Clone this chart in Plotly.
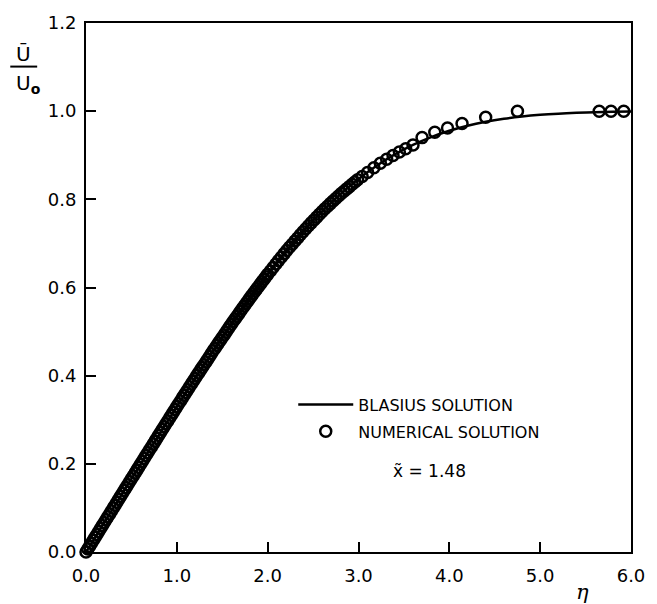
import plotly.graph_objects as go

# Blasius solution (tabulated f'(eta))
blasius_eta = [0.0, 0.2, 0.4, 0.6, 0.8, 1.0, 1.2, 1.4, 1.6, 1.8, 2.0, 2.2, 2.4, 2.6, 2.8,
               3.0, 3.2, 3.4, 3.6, 3.8, 4.0, 4.2, 4.4, 4.6, 4.8, 5.0, 5.2, 5.4, 5.6, 5.8, 6.0]
blasius_u = [0.0, 0.0664, 0.1328, 0.1989, 0.2647, 0.3298, 0.3938, 0.4563, 0.5168, 0.5748,
             0.6298, 0.6813, 0.7290, 0.7725, 0.8115, 0.8461, 0.8761, 0.9018, 0.9233, 0.9411,
             0.9555, 0.9670, 0.9759, 0.9827, 0.9878, 0.9916, 0.9943, 0.9962, 0.9975, 0.9984, 0.9990]

# Numerical solution points
num_eta = [
    0.00, 0.02, 0.04, 0.06, 0.08, 0.10, 0.12, 0.14, 0.16, 0.18,
    0.20, 0.22, 0.24, 0.26, 0.28, 0.30, 0.32, 0.34, 0.36, 0.38,
    0.40, 0.42, 0.44, 0.46, 0.48, 0.50, 0.52, 0.54, 0.56, 0.58,
    0.60, 0.62, 0.64, 0.66, 0.68, 0.70, 0.72, 0.74, 0.76, 0.78,
    0.80, 0.82, 0.84, 0.86, 0.88, 0.90, 0.92, 0.94, 0.96, 0.98,
    1.00, 1.02, 1.04, 1.06, 1.08, 1.10, 1.12, 1.14, 1.16, 1.18,
    1.20, 1.22, 1.24, 1.26, 1.28, 1.30, 1.32, 1.34, 1.36, 1.38,
    1.40, 1.42, 1.44, 1.46, 1.48, 1.50, 1.52, 1.54, 1.56, 1.58,
    1.60, 1.62, 1.64, 1.66, 1.68, 1.70, 1.72, 1.74, 1.76, 1.78,
    1.80, 1.82, 1.84, 1.86, 1.88, 1.90, 1.92, 1.94, 1.96, 1.98,
    2.00, 2.03, 2.06, 2.09, 2.12, 2.15, 2.18, 2.21, 2.24, 2.27,
    2.30, 2.33, 2.36, 2.39, 2.42, 2.45, 2.48, 2.51, 2.54, 2.57,
    2.60, 2.63, 2.66, 2.69, 2.72, 2.75, 2.78, 2.81, 2.84, 2.87,
    2.90, 2.93, 2.96, 2.99, 3.04, 3.10, 3.17, 3.24, 3.31, 3.38,
    3.45, 3.52, 3.60, 3.70, 3.84, 3.98, 4.14, 4.40, 4.75, 5.65,
    5.78, 5.92]
num_u = [
    0.0000, 0.0066, 0.0133, 0.0199, 0.0266, 0.0332, 0.0398, 0.0465, 0.0531, 0.0598,
    0.0664, 0.0731, 0.0797, 0.0863, 0.0930, 0.0996, 0.1062, 0.1129, 0.1195, 0.1262,
    0.1327, 0.1394, 0.1460, 0.1526, 0.1592, 0.1659, 0.1725, 0.1791, 0.1857, 0.1923,
    0.1989, 0.2055, 0.2121, 0.2187, 0.2253, 0.2319, 0.2384, 0.2450, 0.2515, 0.2581,
    0.2647, 0.2713, 0.2778, 0.2843, 0.2908, 0.2973, 0.3038, 0.3103, 0.3167, 0.3233,
    0.3298, 0.3362, 0.3426, 0.3491, 0.3555, 0.3619, 0.3682, 0.3746, 0.3809, 0.3873,
    0.3938, 0.4001, 0.4063, 0.4126, 0.4188, 0.4250, 0.4312, 0.4374, 0.4436, 0.4500,
    0.4563, 0.4624, 0.4684, 0.4744, 0.4804, 0.4864, 0.4924, 0.4985, 0.5046, 0.5107,
    0.5168, 0.5227, 0.5285, 0.5343, 0.5401, 0.5459, 0.5517, 0.5575, 0.5632, 0.5690,
    0.5748, 0.5804, 0.5859, 0.5914, 0.5969, 0.6024, 0.6079, 0.6134, 0.6188, 0.6243,
    0.6298, 0.6376, 0.6455, 0.6533, 0.6610, 0.6687, 0.6763, 0.6837, 0.6911, 0.6982,
    0.7053, 0.7125, 0.7196, 0.7266, 0.7335, 0.7401, 0.7466, 0.7531, 0.7596, 0.7661,
    0.7725, 0.7785, 0.7844, 0.7903, 0.7961, 0.8019, 0.8076, 0.8131, 0.8185, 0.8237,
    0.8288, 0.8340, 0.8392, 0.8442, 0.8520, 0.8611, 0.8717, 0.8818, 0.8910, 0.8995,
    0.9075, 0.9148, 0.9233, 0.9400, 0.9520, 0.9620, 0.9720, 0.9860, 1.0000, 1.0000,
    1.0000, 1.0000]

x_ticks = [0, 1, 2, 3, 4, 5, 6]
x_ticklabels = ["0.0", "1.0", "2.0", "3.0", "4.0", "5.0", "6.0"]
y_ticks = [0, 0.2, 0.4, 0.6, 0.8, 1.0, 1.2]
y_ticklabels = ["0.0", "0.2", "0.4", "0.6", "0.8", "1.0", "1.2"]

FONT = "DejaVu Sans"
L, R, T, B = 86, 24, 18, 52
W, H = 657, 604
PW, PH = W - L - R, H - T - B


def px(xp):
    return (xp - L) / PW


def py(yp):
    return (H - B - yp) / PH


fig = go.Figure()
fig.add_trace(go.Scatter(
    x=blasius_eta, y=blasius_u, mode="lines", name="BLASIUS SOLUTION",
    line=dict(color="black", width=2.5, shape="spline"), legendgroup="a"))
fig.add_trace(go.Scatter(
    x=num_eta, y=num_u, mode="markers", name="NUMERICAL SOLUTION",
    marker=dict(symbol="circle-open", size=11, color="black",
                line=dict(width=2.5, color="black")),
    cliponaxis=False, legendgroup="b"))

fig.update_layout(
    width=W, height=H,
    margin=dict(l=L, r=R, t=T, b=B),
    paper_bgcolor="white", plot_bgcolor="white",
    font=dict(family=FONT, color="black"),
    showlegend=True,
    legend=dict(x=px(294), y=py(386), xanchor="left", yanchor="top",
                font=dict(size=16, family=FONT), tracegroupgap=3,
                bgcolor="rgba(0,0,0,0)", itemwidth=55),
    xaxis=dict(range=[0, 6], tickvals=x_ticks, ticktext=x_ticklabels,
               ticks="inside", ticklen=10, tickwidth=2, tickcolor="black",
               showline=True, linewidth=2, linecolor="black", mirror=True,
               showgrid=False, zeroline=False, tickfont=dict(size=18),
               ticklabelstandoff=6),
    yaxis=dict(range=[0, 1.2], tickvals=y_ticks, ticktext=y_ticklabels,
               ticks="inside", ticklen=10, tickwidth=2, tickcolor="black",
               showline=True, linewidth=2, linecolor="black", mirror=True,
               showgrid=False, zeroline=False, tickfont=dict(size=18),
               ticklabelstandoff=4),
)

# Axis labels
fig.add_annotation(xref="paper", yref="paper", x=px(584), y=py(592),
                   xanchor="center", yanchor="middle",
                   text="<i>η</i>", showarrow=False,
                   font=dict(size=21, family="DejaVu Serif"))
fig.add_annotation(xref="paper", yref="paper", x=px(23.5), y=py(49),
                   xanchor="center", yanchor="middle",
                   text="Ū", showarrow=False, font=dict(size=20, family=FONT))
fig.add_annotation(xref="paper", yref="paper", x=px(14), y=py(80),
                   xanchor="left", yanchor="middle",
                   text="U<sub><b>o</b></sub>", showarrow=False,
                   font=dict(size=20, family=FONT))
fig.add_shape(type="line", xref="paper", yref="paper",
              x0=px(10), x1=px(37), y0=py(62), y1=py(62),
              line=dict(color="black", width=2))
fig.add_annotation(xref="paper", yref="paper", x=px(431), y=py(470),
                   xanchor="center", yanchor="middle",
                   text="x\u0303 = 1.48", showarrow=False,
                   font=dict(size=17, family=FONT))

fig.write_html("out.html")
